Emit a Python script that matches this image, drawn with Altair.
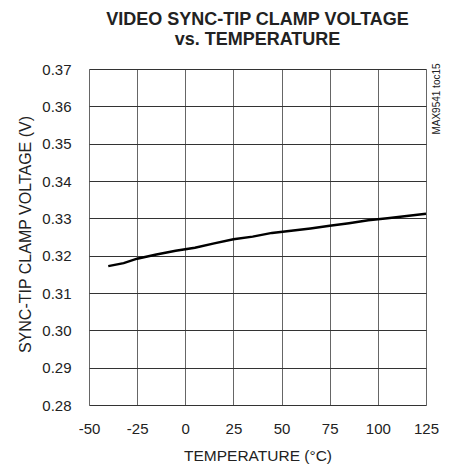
import altair as alt
import pandas as pd

temps = [-40, -32, -25, -15, -5, 5, 15, 25, 35, 45, 55, 65, 75, 85, 95, 105, 115, 125]
volts = [0.3172, 0.3180, 0.3192, 0.3203, 0.3213, 0.3221, 0.3233, 0.3244, 0.3251,
         0.3261, 0.3267, 0.3273, 0.3280, 0.3287, 0.3295, 0.3300, 0.3306, 0.3312]
x_ticks = [-50, -25, 0, 25, 50, 75, 100, 125]
y_ticks = [0.28, 0.29, 0.30, 0.31, 0.32, 0.33, 0.34, 0.35, 0.36, 0.37]
title_lines = ["VIDEO SYNC-TIP CLAMP VOLTAGE", "vs. TEMPERATURE"]
x_title = "TEMPERATURE (°C)"
y_title = "SYNC-TIP CLAMP VOLTAGE (V)"
side_note = ["MAX9541 toc15"]

df = pd.DataFrame({"t": temps, "v": volts})
REG = "Liberation Sans, Arial, sans-serif"

W, H = 337, 336

line = alt.Chart(df).mark_line(color="black", strokeWidth=2.5).encode(
    x=alt.X("t:Q", scale=alt.Scale(domain=[-50, 125], nice=False),
            axis=alt.Axis(values=x_ticks, title=x_title, grid=True, gridColor="#666",
                          gridWidth=1, gridOpacity=1, domain=False, ticks=False,
                          labelExpr="replace(datum.label, '−', '-')",
                          labelPadding=16, labelFont=REG, labelFontSize=15,
                          labelColor="#222", titleFont=REG, titleFontSize=15.5,
                          titleFontWeight="normal", titleColor="#222",
                          titleX=W / 2, titleY=50, titleBaseline="middle",
                          labelFlush=False)),
    y=alt.Y("v:Q", scale=alt.Scale(domain=[0.28, 0.37], nice=False, zero=False),
            axis=alt.Axis(values=y_ticks, format=".2f", title=y_title, grid=True,
                          gridColor="#333", gridWidth=1, gridOpacity=1, domain=False,
                          ticks=False, labelPadding=18, labelFont=REG,
                          labelFontSize=15, labelColor="#222", titleFont=REG,
                          titleFontSize=16, titleFontWeight="normal", titleColor="#222",
                          titleX=-64, titleY=H / 2 - 3, titleBaseline="middle",
                          titleAlign="center", titleAngle=270, labelFlush=False)),
)

note = alt.Chart(pd.DataFrame({"s": side_note})).mark_text(
    angle=270, font=REG, fontSize=10, color="#222", align="center", baseline="middle"
).encode(x=alt.value(W + 11), y=alt.value(30), text="s:N")

chart = (line + note).properties(
    width=W, height=H,
    title=alt.TitleParams(title_lines, font=REG, fontSize=18, fontWeight="bold",
                          color="#222", anchor="middle", offset=13, lineHeight=20),
    padding={"left": 81, "top": 61, "right": 17, "bottom": 60},
    autosize=alt.AutoSizeParams(type="none"),
).configure_view(stroke="#111", strokeWidth=3).configure(background="white")

chart.save("out.html", embed_options={"renderer": "svg", "actions": False})
